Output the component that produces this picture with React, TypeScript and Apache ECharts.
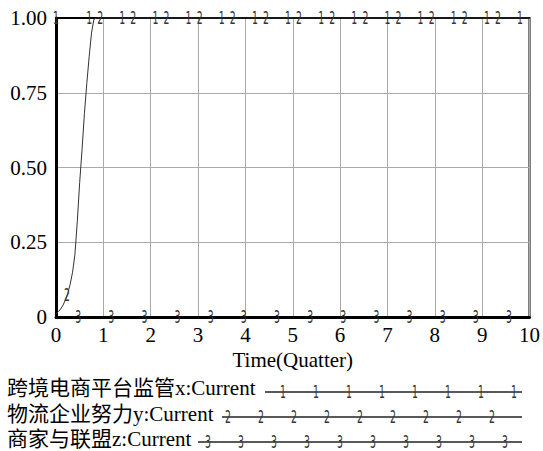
import React, { useEffect, useRef } from "react";
import * as echarts from "echarts";

// Simulation output (time in quarters)
const time = [0, 0.05, 0.1, 0.15, 0.2, 0.25, 0.3, 0.35, 0.4, 0.45, 0.5, 0.55, 0.6, 0.65, 0.7, 0.75, 0.8, 0.85, 1, 2, 3, 4, 5, 6, 7, 8, 9, 10];
const regulationX = [1, 1, 1, 1, 1, 1, 1, 1, 1, 1, 1, 1, 1, 1, 1, 1, 1, 1, 1, 1, 1, 1, 1, 1, 1, 1, 1, 1];
const logisticsY = [0.01, 0.018, 0.027, 0.04, 0.058, 0.08, 0.11, 0.15, 0.21, 0.32, 0.45, 0.56, 0.68, 0.78, 0.87, 0.95, 0.995, 1, 1, 1, 1, 1, 1, 1, 1, 1, 1, 1];
const merchantZ = [0, 0, 0, 0, 0, 0, 0, 0, 0, 0, 0, 0, 0, 0, 0, 0, 0, 0, 0, 0, 0, 0, 0, 0, 0, 0, 0, 0];

const seriesNames = ["跨境电商平台监管x:Current", "物流企业努力y:Current", "商家与联盟z:Current"];
const seriesTags = ["1", "2", "3"];
const xTicks = [0, 1, 2, 3, 4, 5, 6, 7, 8, 9, 10];
const xTitle = "Time(Quatter)";

const SERIF = "'Liberation Serif', 'Times New Roman', serif";
const TAG_FONT = "17px 'DejaVu Sans', sans-serif";
const MARK_STEP = 0.7;

function interp(xs: number[], ys: number[], t: number): number {
  for (let i = 0; i < xs.length - 1; i++) {
    if (t >= xs[i] && t <= xs[i + 1]) {
      const f = (t - xs[i]) / (xs[i + 1] - xs[i]);
      return ys[i] + f * (ys[i + 1] - ys[i]);
    }
  }
  return ys[ys.length - 1];
}

// series-number tags placed every MARK_STEP along each curve, staggered per series
function tagPoints(ys: number[], k: number) {
  const pts: number[][] = [];
  for (let t = (k * MARK_STEP) / 3; t <= 10.001; t += MARK_STEP) {
    pts.push([t, interp(time, ys, t)]);
  }
  return pts;
}

function tagText(tag: string, x: number, y: number, color: string) {
  return {
    type: "text",
    x,
    y,
    scaleX: 0.55,
    style: {
      text: tag,
      font: TAG_FONT,
      fill: color,
      align: "center",
      verticalAlign: "middle",
    },
  };
}

export default function App() {
  const ref = useRef<HTMLDivElement>(null);

  useEffect(() => {
    if (!ref.current) return;
    const chart = echarts.init(ref.current, undefined, { renderer: "svg" });
    const all = [regulationX, logisticsY, merchantZ];
    const lineColors = ["#000", "#333", "#000"];
    const lineWidths = [2, 1, 2];

    const lineSeries = all.map((ys, k) => ({
      type: "line",
      name: seriesNames[k],
      data: time.map((t, i) => [t, ys[i]]),
      showSymbol: false,
      symbol: "none",
      lineStyle: { color: lineColors[k], width: lineWidths[k] },
      z: 3,
      clip: false,
    }));

    const tagSeries = all.map((ys, k) => ({
      type: "custom",
      data: tagPoints(ys, k),
      renderItem: (_params: any, api: any) => {
        const p = api.coord([api.value(0), api.value(1)]);
        return tagText(seriesTags[k], p[0], p[1], "#333");
      },
      z: 5,
      clip: false,
      silent: true,
    }));

    // legend rows: label text followed by a sample line carrying the series tag
    const textY = [388, 414, 439];
    const lineY = [392, 417, 442];
    const lineStart = [265, 222, 198];
    const firstTag = [283, 228, 208];
    const lineEnd = 522;
    const legend: any[] = [];
    textY.forEach((y, k) => {
      legend.push({
        type: "text",
        x: 7,
        y,
        style: {
          text: seriesNames[k],
          font: `21px 'Liberation Serif', 'Noto Sans CJK SC', serif`,
          fill: "#000",
          verticalAlign: "middle",
        },
      });
      legend.push({
        type: "line",
        shape: { x1: lineStart[k], y1: lineY[k], x2: lineEnd, y2: lineY[k] },
        style: { stroke: "#222", lineWidth: 1.3 },
      });
      for (let x = firstTag[k]; x <= lineEnd - 5; x += 33) {
        legend.push(tagText(seriesTags[k], x, lineY[k], "#333"));
      }
    });

    chart.setOption({
      animation: false,
      backgroundColor: "#fff",
      textStyle: { fontFamily: SERIF },
      grid: {
        left: 56,
        right: 10,
        top: 18,
        bottom: 134,
        show: true,
        borderColor: "#000",
        borderWidth: 2,
        backgroundColor: "transparent",
      },
      xAxis: {
        type: "value",
        min: 0,
        max: 10,
        interval: 1,
        name: xTitle,
        nameLocation: "middle",
        nameGap: 31,
        nameTextStyle: { fontFamily: SERIF, fontSize: 21, color: "#000" },
        axisLine: { show: true, lineStyle: { color: "#000", width: 3 } },
        axisTick: { show: false },
        axisLabel: {
          fontFamily: SERIF,
          fontSize: 21,
          color: "#000",
          margin: 7,
          formatter: (v: number) => (xTicks.includes(v) ? String(v) : ""),
        },
        splitLine: { show: true, lineStyle: { color: "#aaa", width: 1 } },
      },
      yAxis: {
        type: "value",
        min: 0,
        max: 1,
        interval: 0.25,
        axisLine: { show: true, lineStyle: { color: "#000", width: 3 } },
        axisTick: { show: false },
        axisLabel: {
          fontFamily: SERIF,
          fontSize: 21,
          color: "#000",
          margin: 9,
          formatter: (v: number) => (v === 0 ? "0" : v.toFixed(2)),
        },
        splitLine: { show: true, lineStyle: { color: "#aaa", width: 1 } },
      },
      series: [...lineSeries, ...tagSeries],
      graphic: legend,
    });

    return () => chart.dispose();
  }, []);

  return (
    <div
      ref={ref}
      style={{ position: "fixed", left: 0, top: 0, width: 543, height: 451, background: "#fff" }}
    />
  );
}
